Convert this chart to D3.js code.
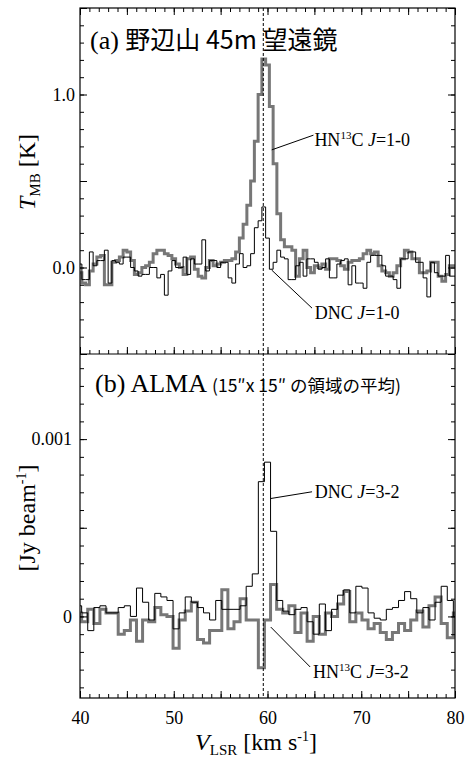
<!DOCTYPE html>
<html>
<head>
<meta charset="utf-8">
<script src="https://cdn.jsdelivr.net/npm/d3@7"></script>
<style>
  body { margin: 0; background: #fff; }
  text { font-family: "Liberation Serif", "Times New Roman", serif; fill: #000; }
  .jp { font-family: "Noto Sans CJK JP", sans-serif; }
</style>
</head>
<body>
<svg id="grafico"></svg>
<script>
// channel grids (km/s): Nobeyama 45m and ALMA
const v45Inicio = 40.0, v45Passo = 0.4;
const vAlmaInicio = 39.85, vAlmaPasso = 0.65;
const vSistema = 59.55;

// (a) Nobeyama 45m, T_MB [K]
const hn13c10 = [
  -0.03, -0.09, -0.10, -0.02, 0.02, 0.06, 0.07, -0.10, -0.10, 0.03,
  0.04, 0.06, 0.10, 0.09, 0.04, -0.04, -0.03, 0.00, 0.01, 0.03,
  0.08, 0.10, 0.10, 0.08, 0.07, 0.05, 0.02, 0.00, -0.04, 0.05,
  0.06, -0.01, -0.05, -0.06, 0.00, 0.04, 0.01, 0.02, 0.03, 0.04,
  0.04, 0.05, 0.09, 0.17, 0.25, 0.36, 0.50, 0.73, 1.00, 1.205,
  1.17, 0.93, 0.60, 0.31, 0.16, 0.12, 0.12, 0.10, -0.05, 0.05,
  0.10, 0.00, -0.03, 0.01, 0.00, 0.02, -0.01, 0.05, 0.05, 0.04,
  0.01, -0.01, 0.03, 0.04, 0.04, 0.05, 0.08, 0.10, 0.08, 0.09,
  0.01, -0.02, -0.03, -0.05, -0.03, 0.01, 0.05, 0.10, 0.09, 0.05,
  0.05, -0.03, -0.03, -0.02, 0.03, 0.03, -0.05, -0.08, -0.04, 0.01,
  0.01
];
const dnc10 = [
  0.02, -0.07, -0.07, 0.09, 0.01, 0.04, 0.04, 0.10, -0.09, 0.04,
  0.03, 0.02, 0.06, 0.06, 0.00, -0.02, -0.05, -0.04, -0.04, 0.00,
  0.00, -0.06, -0.04, -0.16, -0.02, 0.04, 0.00, 0.00, 0.06, -0.04,
  0.05, 0.02, 0.02, 0.16, -0.02, 0.04, 0.04, 0.00, 0.03, 0.03,
  -0.06, -0.09, 0.02, 0.08, 0.00, 0.01, 0.08, 0.23, 0.27, 0.35,
  0.17, -0.01, 0.03, 0.10, 0.06, 0.05, -0.07, -0.07, 0.01, 0.03,
  -0.05, 0.05, 0.05, 0.03, -0.01, 0.00, 0.05, -0.06, -0.06, 0.02,
  0.04, 0.05, -0.10, 0.01, -0.09, -0.09, -0.12, 0.03, 0.07, 0.07,
  0.07, 0.01, -0.05, -0.05, -0.07, -0.12, 0.05, 0.05, 0.09, 0.09,
  0.03, 0.03, -0.06, -0.17, 0.03, -0.03, -0.05, -0.05, 0.07, -0.05,
  -0.05
];

// (b) ALMA, Jy/beam
const dnc32 = [
  0.00006, 0.00002, -0.00008, 0.00005, 0.00006, 0.00002, 0.00002, 0.00005, 0.00006, 0.0,
  0.00016, 0.00008, -0.00002, 0.00013, 0.00011, 0.00009, -0.00007, 0.00002, 0.00011, 0.00008,
  0.00005, 0.00002, -0.00002, 0.00009, 0.00004, 0.00004, 0.00004, 0.00006, 0.00017, 0.00024,
  0.00076, 0.00087, 0.00048, 0.00009, 0.00003, 0.00001, 0.00004, 0.00005, -0.00003, -0.0001,
  0.00007, -0.00008, 0.00004, 0.00012, 0.00015, 0.00002, 0.00017, 0.00016, 0.00002, -0.00001,
  -0.00002, 0.00004, 0.00005, 0.00009, 0.00014, 0.0001, 0.00002, 0.00005, -0.00002, 0.00008,
  0.00017, 0.00009, 0.0
];
const hn13c32 = [
  0.00002, -0.00003, 0.00004, -0.00004, 0.00004, 0.00002, 0.00002, -0.0001, -0.00008, -0.00002,
  -0.00014, -0.00002, -0.00003, 0.00005, 0.00001, 0.0, -0.00018, -0.00002, 0.00003, 0.00008,
  -0.00013, -0.00015, -0.00008, -0.00008, 0.00015, -0.00007, -0.00003, 0.0001, -0.00002, -0.00002,
  -0.00029, -0.00002, 0.00018, 0.00004, 0.00002, 0.00006, -0.00009, 0.00002, -0.00014, 0.0,
  -0.0001, 0.00002, 0.0, 0.00007, 0.00014, -0.00003, 0.00002, -0.00002, -0.00007, -0.00004,
  -0.00009, -0.00013, -0.00009, -0.00004, -0.00008, -0.00002, 0.00003, -0.00006, 0.00006, 0.00011,
  -0.00004, -0.00012, 0.00002
];

// tick labels
const xTicks = [40, 50, 60, 70, 80];
const yTicksA = [0, 1];
const yRotulosA = ['0.0', '1.0'];
const yTicksB = [0, 0.001];
const yRotulosB = ['0', '0.001'];

let largura = 470, altura = 760;
let esq = 80, dir = 455, topo = 8, meio = 354, base = 698;
let cinza = '#777';

let svg = d3.select('#grafico').attr('width', largura).attr('height', altura);

let x = d3.scaleLinear().domain([40, 80]).range([esq, dir]);
let yA = d3.scaleLinear().domain([-0.5, 1.5]).range([meio, topo]);
let yB = d3.scaleLinear().domain([-0.00046, 0.00148]).range([base, meio]);

// clip paths for each panel
let defs = svg.append('defs');
defs.append('clipPath').attr('id', 'clipA').append('rect')
  .attr('x', esq).attr('y', topo).attr('width', dir - esq).attr('height', meio - topo);
defs.append('clipPath').attr('id', 'clipB').append('rect')
  .attr('x', esq).attr('y', meio).attr('width', dir - esq).attr('height', base - meio);

// histogram-style spectrum
function espectro(clip, valores, v0, dv, y, cor, espessura) {
  let pontos = valores.map((t, i) => ({ v: v0 + i * dv, t: t }));
  svg.append('path')
    .datum(pontos)
    .attr('clip-path', 'url(#' + clip + ')')
    .attr('d', d3.line().curve(d3.curveStep).x(d => x(d.v)).y(d => y(d.t)))
    .attr('fill', 'none')
    .attr('stroke', cor)
    .attr('stroke-width', espessura)
    .attr('stroke-linejoin', 'miter');
}

espectro('clipA', hn13c10, v45Inicio, v45Passo, yA, cinza, 3);
espectro('clipA', dnc10, v45Inicio, v45Passo, yA, '#000', 1);
espectro('clipB', hn13c32, vAlmaInicio, vAlmaPasso, yB, cinza, 3);
espectro('clipB', dnc32, vAlmaInicio, vAlmaPasso, yB, '#000', 1);

// ticks (inward) with d3 axes
function marcas(eixo, pos, valores, tamanho, rotulos, padding) {
  let g = svg.append('g')
    .attr('transform', pos)
    .call(eixo.tickValues(valores).tickSize(-tamanho).tickPadding(padding || 3)
      .tickFormat(rotulos ? (d, i) => rotulos[i] : ''));
  g.select('.domain').remove();
  g.selectAll('line').attr('stroke', '#000');
  g.attr('font-family', '"Liberation Serif", "Times New Roman", serif').attr('font-size', 18);
  return g;
}

let xMenor = d3.range(40, 80.5, 1);
let xMaior = d3.range(40, 80.5, 5);
// x ticks: top of panel a, bottom of panel a, bottom of panel b
marcas(d3.axisTop(x), `translate(0,${topo})`, xMenor, 4);
marcas(d3.axisTop(x), `translate(0,${topo})`, xMaior, 7);
marcas(d3.axisBottom(x), `translate(0,${meio})`, xMenor, 4);
marcas(d3.axisBottom(x), `translate(0,${meio})`, xMaior, 7);
marcas(d3.axisBottom(x), `translate(0,${base})`, xMenor, 4);
marcas(d3.axisBottom(x), `translate(0,${base})`, xMaior, 7);
marcas(d3.axisBottom(x), `translate(0,${base})`, xTicks, 0, xTicks.map(String), 13);

let yMenorA = d3.range(-0.5, 1.501, 0.1);
let yMaiorA = d3.range(-0.5, 1.501, 0.5);
let yMenorB = d3.range(-0.0004, 0.00141, 0.0001);
let yMaiorB = [0, 0.0005, 0.001];
[[d3.axisLeft, esq], [d3.axisRight, dir]].forEach(([eixo, xp]) => {
  marcas(eixo(yA), `translate(${xp},0)`, yMenorA, 4);
  marcas(eixo(yA), `translate(${xp},0)`, yMaiorA, 7);
  marcas(eixo(yB), `translate(${xp},0)`, yMenorB, 4);
  marcas(eixo(yB), `translate(${xp},0)`, yMaiorB, 7);
});
marcas(d3.axisLeft(yA), `translate(${esq},0)`, yTicksA, 0, yRotulosA, 5);
marcas(d3.axisLeft(yB), `translate(${esq},0)`, yTicksB, 0, yRotulosB, 8);

// frame and panel divider
svg.append('rect').attr('x', esq).attr('y', topo).attr('width', dir - esq).attr('height', base - topo)
  .attr('fill', 'none').attr('stroke', '#000').attr('stroke-width', 1.2);
svg.append('line').attr('x1', esq).attr('x2', dir).attr('y1', meio).attr('y2', meio)
  .attr('stroke', '#000').attr('stroke-width', 1.2);

// systemic velocity
svg.append('line')
  .attr('x1', x(vSistema)).attr('x2', x(vSistema))
  .attr('y1', topo).attr('y2', base)
  .attr('stroke', '#000').attr('stroke-width', 1).attr('stroke-dasharray', '3,2');

// panel titles
let ta = svg.append('text').attr('x', 90).attr('y', 49);
ta.append('tspan').attr('font-size', 26).text('(a) ');
ta.append('tspan').attr('class', 'jp').attr('font-size', 25).text('野辺山 45m 望遠鏡');

let tb = svg.append('text').attr('x', 95).attr('y', 392);
tb.append('tspan').attr('font-size', 26).text('(b) ALMA ');
tb.append('tspan').attr('class', 'jp').attr('font-size', 17.5).text('(15″x 15″ の領域の平均)');

// line labels with leader lines (positions in data units)
function rotulo(y, v1, t1, v2, t2, vt, tt, molecula, transicao) {
  svg.append('line')
    .attr('x1', x(v1)).attr('y1', y(t1)).attr('x2', x(v2)).attr('y2', y(t2))
    .attr('stroke', '#000').attr('stroke-width', 1);
  let t = svg.append('text').attr('x', x(vt)).attr('y', y(tt)).attr('font-size', 18);
  if (molecula === 'HN13C') {
    t.append('tspan').text('HN');
    t.append('tspan').attr('font-size', 11).attr('dy', -7).text('13');
    t.append('tspan').attr('dy', 7).text('C ');
  } else {
    t.append('tspan').text('DNC ');
  }
  t.append('tspan').attr('font-style', 'italic').text('J');
  t.append('tspan').text('=' + transicao);
}

rotulo(yA, 60.45, 0.68, 64.9, 0.765, 65.0, 0.70, 'HN13C', '1-0');
rotulo(yA, 60.45, -0.015, 64.75, -0.235, 65.05, -0.30, 'DNC', '1-0');
rotulo(yB, 60.35, 0.000665, 64.75, 0.000703, 65.05, 0.000668, 'DNC', '3-2');
rotulo(yB, 60.35, -0.00006, 64.55, -0.000285, 64.85, -0.000347, 'HN13C', '3-2');

// axis titles
let ly = svg.append('text').attr('transform', 'translate(35,172) rotate(-90)')
  .attr('text-anchor', 'middle').attr('font-size', 24);
ly.append('tspan').attr('font-style', 'italic').text('T');
ly.append('tspan').attr('font-size', 15).attr('dy', 5).text('MB');
ly.append('tspan').attr('dy', -5).text(' [K]');

let lyb = svg.append('text').attr('transform', 'translate(35,518) rotate(-90)')
  .attr('text-anchor', 'middle').attr('font-size', 24);
lyb.append('tspan').text('[Jy beam');
lyb.append('tspan').attr('font-size', 14).attr('dy', -9).text('-1');
lyb.append('tspan').attr('dy', 9).text(']');

let lx = svg.append('text').attr('x', 256).attr('y', 750)
  .attr('text-anchor', 'middle').attr('font-size', 24);
lx.append('tspan').attr('font-style', 'italic').text('V');
lx.append('tspan').attr('font-size', 15).attr('dy', 5).text('LSR');
lx.append('tspan').attr('dy', -5).text(' [km s');
lx.append('tspan').attr('font-size', 14).attr('dy', -9).text('-1');
lx.append('tspan').attr('dy', 9).text(']');
</script>
</body>
</html>
